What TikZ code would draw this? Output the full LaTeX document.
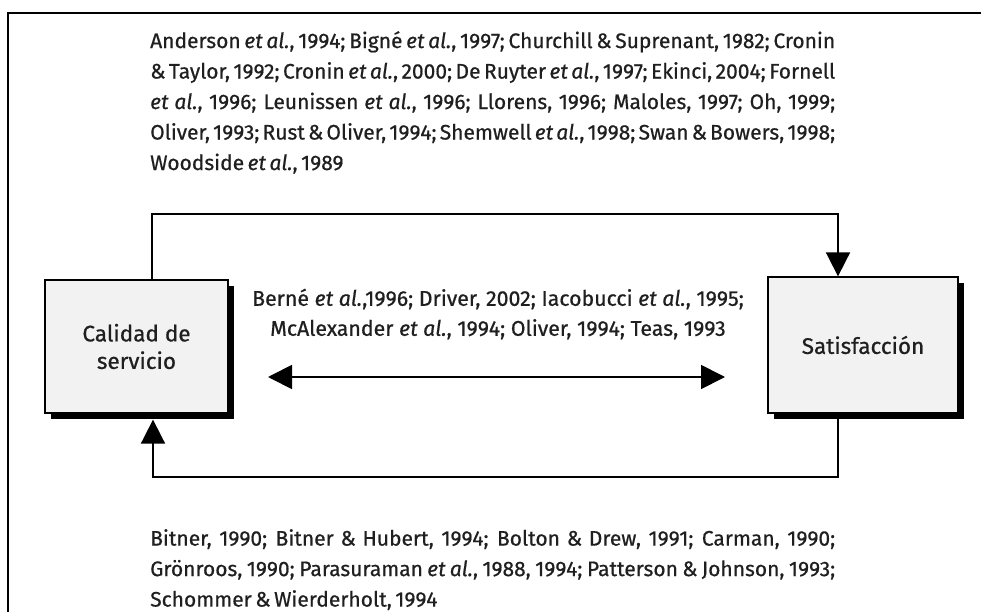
\documentclass[tikz,border=0pt]{standalone}
\usepackage{fontspec}
\setmainfont{Fira Sans}
\newfontfamily\condfont[FakeBold=0.6]{Fira Sans}
\newfontfamily\medfont[FakeBold=0.7]{Fira Sans}
\usetikzlibrary{arrows.meta,shadows}
\tikzset{
  conn/.style={line width=1.8pt},
  tip/.style={-{Triangle[length=24pt,width=24pt]}},
  boxnode/.style={draw, line width=1.3pt, fill=black!5, inner sep=0pt,
    align=center, text=black!88, font=\medfont\fontsize{22.5}{27.5}\selectfont,
    drop shadow={opacity=1, fill=black, shadow xshift=6pt, shadow yshift=-6pt}},
  reftext/.style={inner sep=0pt, align=left, text=black!88,
    font=\condfont\fontsize{21}{30.5}\selectfont},
  midtext/.style={inner sep=0pt, align=center, text=black!88,
    font=\medfont\fontsize{21.3}{30}\selectfont}
}
\newcommand{\tsp}{\spaceskip=3.5pt plus 40pt minus 1pt\relax}
\newcommand{\jline}[1]{\makebox[685pt][s]{\tsp #1}}
\newcommand{\nline}[1]{{\tsp #1}}
\begin{document}
\begin{tikzpicture}[x=1pt,y=-1pt]
\useasboundingbox (0,0) rectangle (981,612);
\fill[white] (0,0) rectangle (981,612);
\draw[line width=2.2pt] (8,612) -- (8,13) -- (981,13);

\node[reftext, anchor=north west] (top) at (150,31) {%
\jline{Anderson \emph{et al.}, 1994; Bigné \emph{et al.}, 1997; Churchill \& Suprenant, 1982; Cronin}\\
\jline{\& Taylor, 1992; Cronin \emph{et al.}, 2000; De Ruyter \emph{et al.}, 1997; Ekinci, 2004; Fornell}\\
\jline{\emph{et al.}, 1996; Leunissen \emph{et al.}, 1996; Llorens, 1996; Maloles, 1997; Oh, 1999;}\\
\jline{Oliver, 1993; Rust \& Oliver, 1994; Shemwell \emph{et al.}, 1998; Swan \& Bowers, 1998;}\\
\nline{Woodside \emph{et al.}, 1989}};

\node[boxnode, minimum width=183pt, minimum height=133pt] (L) at (136.5,346.5) {Calidad de\\servicio};
\node[boxnode, minimum width=190pt, minimum height=136pt] (R) at (863,345) {Satisfacción};

\node[midtext] (mid) at (498,314) {Berné \emph{et al.},1996; Driver, 2002; Iacobucci \emph{et al.}, 1995;\\
McAlexander \emph{et al.}, 1994; Oliver, 1994; Teas, 1993};

\coordinate (topR) at (838,214);
\coordinate (botR) at (838,477);
\coordinate (dl) at (268,377);
\coordinate (dr) at (725,377);

\draw[conn, tip] ([xshift=15.5pt]L.north) |- (topR) -- (topR |- R.north);
\draw[conn, tip] (botR |- R.south) -- (botR) -| ([shift={(16.5pt,-6pt)}]L.south);
\draw[conn, {Triangle[length=24pt,width=24pt]}-{Triangle[length=24pt,width=24pt]}] (dl) -- (dr);

\node[reftext, anchor=north west] (bot) at (150,529) {%
\jline{Bitner, 1990; Bitner \& Hubert, 1994; Bolton \& Drew, 1991; Carman, 1990;}\\
\jline{Grönroos, 1990; Parasuraman \emph{et al.}, 1988, 1994; Patterson \& Johnson, 1993;}\\
\nline{Schommer \& Wierderholt, 1994}};
\end{tikzpicture}
\end{document}
